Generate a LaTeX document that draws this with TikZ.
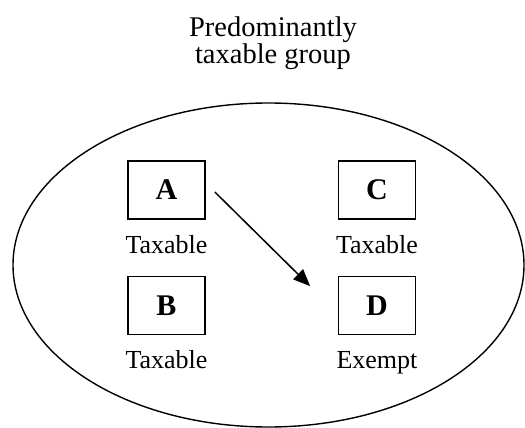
\documentclass[tikz,border=0pt]{standalone}
\usepackage{fontspec}
\setmainfont{Liberation Serif}
\usetikzlibrary{arrows.meta,shapes.geometric}
\begin{document}
\begin{tikzpicture}[x=1pt,y=-1pt,
  box/.style={draw,line width=1.7pt,minimum width=77pt,minimum height=58pt,inner sep=0pt,
    font=\fontsize{30}{30}\selectfont\bfseries},
  lbl/.style={anchor=base,inner sep=0pt,font=\fontsize{26}{28}\selectfont},
  ttl/.style={anchor=base,inner sep=0pt,font=\fontsize{28.5}{29}\selectfont},
  arr/.style={line width=1.5pt,-{Triangle[length=17pt,width=14pt]}}]
\useasboundingbox (0,0) rectangle (525,428);
\node[draw,line width=1.4pt,ellipse,minimum width=511pt,minimum height=324pt,inner sep=0pt] (grp) at (268.5,265) {};
\node[ttl] (t1) at (273,37) {Predominantly};
\node[ttl] (t2) at (273,64) {taxable group};
\node[box] (A) at (166.5,190) {A};
\node[box] (C) at (377,190) {C};
\node[box] (B) at (166.5,305.5) {B};
\node[box] (D) at (377,305.5) {D};
\node[lbl] (la) at (166.5,253) {Taxable};
\node[lbl] (lc) at (377,253) {Taxable};
\node[lbl] (lb) at (166.5,368) {Taxable};
\node[lbl] (ld) at (377,368) {Exempt};
\draw[arr] ([shift={(9pt,-2pt)}]A.east) -- ([shift={(-27.5pt,-10.5pt)}]D.north west);
\end{tikzpicture}
\end{document}
